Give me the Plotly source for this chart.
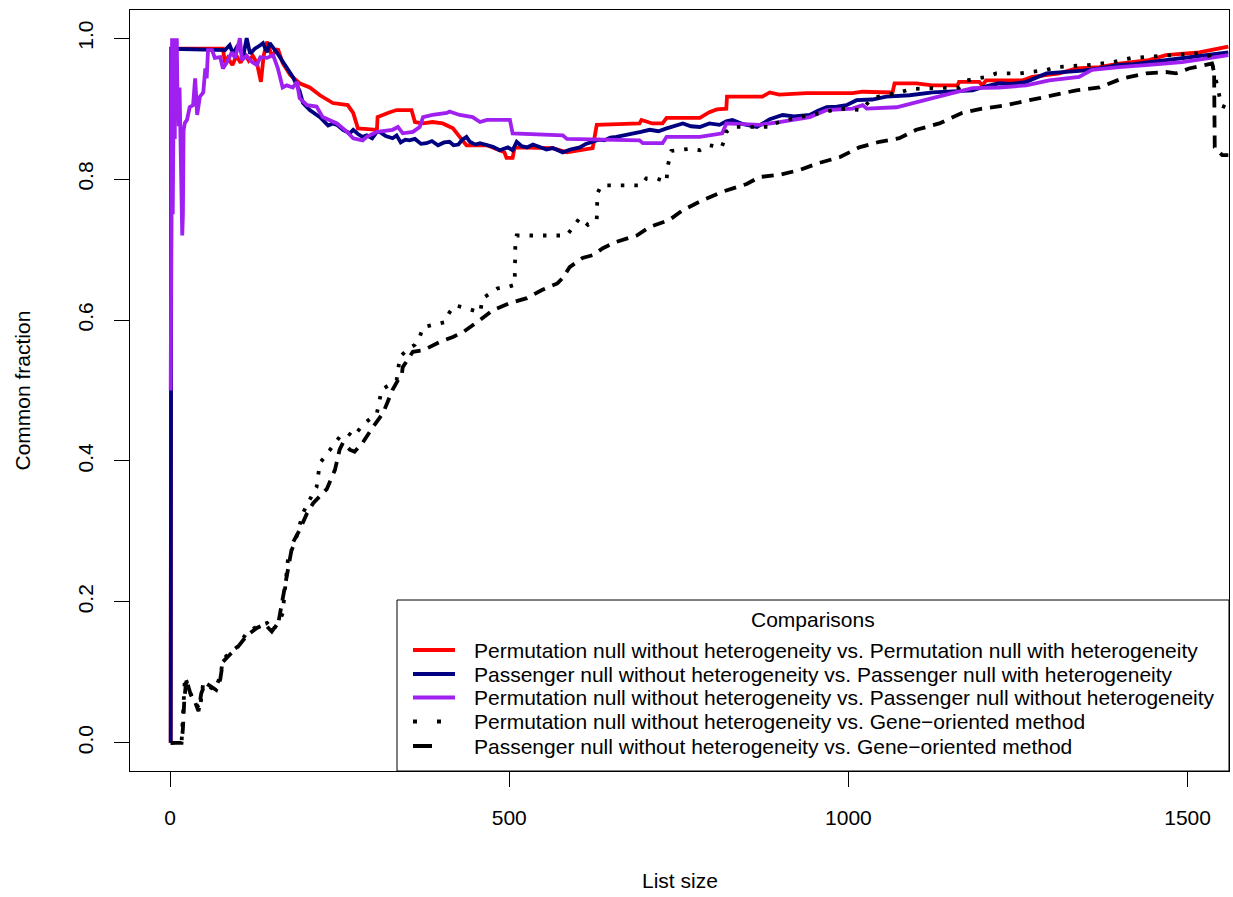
import plotly.graph_objects as go

# ---------------- data ----------------
red_x = [1, 2, 78, 81, 85, 92, 98, 104, 110, 116, 122, 128, 134, 138, 143, 150, 159, 166, 177, 191,
         206, 221, 240, 262, 270, 277, 305, 306, 324, 334, 356, 361, 373, 387, 402, 417, 427, 437,
         467, 476, 493, 496, 505, 508, 564, 585, 623, 629, 692, 695, 711, 726, 732, 781, 795, 806,
         820, 821, 873, 884, 898, 938, 1006, 1021, 1065, 1068, 1100, 1124, 1161, 1163, 1193, 1197,
         1203, 1256, 1271, 1311, 1336, 1370, 1399, 1443, 1468, 1517, 1546, 1560]
red_y = [0.0, 0.985, 0.985, 0.965, 0.972, 0.962, 0.975, 0.965, 0.978, 0.968, 0.975, 0.965, 0.938,
         0.975, 0.995, 0.975, 0.985, 0.965, 0.948, 0.936, 0.93, 0.919, 0.908, 0.905, 0.894, 0.872,
         0.870, 0.888, 0.895, 0.898, 0.898, 0.881, 0.879, 0.881, 0.879, 0.872, 0.860, 0.848, 0.848,
         0.845, 0.838, 0.830, 0.830, 0.845, 0.844, 0.838, 0.844, 0.877, 0.879, 0.884, 0.879, 0.879,
         0.887, 0.887, 0.895, 0.899, 0.900, 0.917, 0.917, 0.923, 0.920, 0.922, 0.922, 0.924, 0.923,
         0.936, 0.936, 0.933, 0.933, 0.938, 0.938, 0.933, 0.940, 0.940, 0.945, 0.950, 0.957, 0.959,
         0.964, 0.969, 0.976, 0.980, 0.986, 0.988]

navy_x = [1, 2, 81, 88, 93, 100, 108, 113, 118, 125, 133, 137, 143, 147, 158, 172, 181, 191, 196,
          206, 214, 221, 225, 233, 240, 246, 255, 265, 270, 277, 284, 290, 298, 305, 309, 318, 328,
          334, 340, 347, 353, 361, 370, 378, 386, 395, 404, 412, 418, 425, 431, 437, 442, 450, 457,
          467, 476, 486, 498, 505, 511, 518, 526, 535, 545, 555, 564, 572, 579, 590, 604, 613, 623,
          632, 640, 649, 658, 670, 682, 694, 707, 720, 732, 744, 756, 768, 781, 795, 810, 820, 829,
          845, 865, 884, 903, 920, 943, 955, 968, 983, 997, 1012, 1035, 1056, 1090, 1124, 1145,
          1163, 1183, 1200, 1222, 1240, 1262, 1292, 1321, 1345, 1370, 1399, 1420, 1443, 1470, 1492,
          1520, 1546, 1560]
navy_y = [0.0, 0.985, 0.983, 0.990, 0.978, 0.990, 0.975, 1.000, 0.978, 0.985, 0.990, 0.993, 0.980,
          0.993, 0.979, 0.959, 0.945, 0.925, 0.908, 0.898, 0.893, 0.888, 0.884, 0.876, 0.879, 0.877,
          0.870, 0.865, 0.870, 0.864, 0.860, 0.862, 0.858, 0.867, 0.867, 0.861, 0.858, 0.862, 0.852,
          0.856, 0.855, 0.857, 0.850, 0.851, 0.854, 0.848, 0.852, 0.853, 0.848, 0.849, 0.856, 0.860,
          0.853, 0.849, 0.851, 0.849, 0.846, 0.841, 0.845, 0.841, 0.853, 0.847, 0.845, 0.849, 0.846,
          0.842, 0.844, 0.840, 0.838, 0.842, 0.845, 0.850, 0.853, 0.856, 0.855, 0.859, 0.860, 0.862,
          0.865, 0.867, 0.870, 0.868, 0.872, 0.876, 0.879, 0.875, 0.874, 0.879, 0.877, 0.882, 0.884,
          0.878, 0.874, 0.885, 0.891, 0.889, 0.891, 0.897, 0.902, 0.903, 0.905, 0.912, 0.913, 0.917,
          0.919, 0.923, 0.924, 0.926, 0.926, 0.931, 0.936, 0.935, 0.938, 0.950, 0.952, 0.954, 0.957,
          0.962, 0.963, 0.966, 0.969, 0.972, 0.975, 0.979, 0.980]

purple_x = [1, 2, 3, 4, 5, 6, 7, 8, 9, 10, 11, 12, 13, 14, 15, 16, 17, 18, 19, 20, 22, 25, 29, 34,
            37, 40, 44, 49, 52, 54, 56, 62, 66, 74, 78, 84, 91, 96, 103, 106, 113, 121, 128, 133,
            143, 152, 159, 166, 172, 181, 187, 191, 202, 216, 225, 246, 261, 270, 284, 290, 305,
            328, 336, 343, 358, 368, 373, 387, 408, 412, 427, 446, 457, 467, 501, 505, 579, 585,
            692, 697, 726, 732, 781, 814, 820, 869, 898, 943, 968, 1006, 1021, 1027, 1071, 1094,
            1124, 1153, 1183, 1222, 1262, 1296, 1340, 1359, 1399, 1443, 1492, 1546, 1560]
purple_y = [0.5, 1.0, 1.0, 0.75, 1.0, 1.0, 0.857, 1.0, 0.89, 1.0, 0.91, 0.92, 0.875, 0.93, 0.88,
            0.80, 0.73, 0.72, 0.75, 0.87, 0.88, 0.884, 0.902, 0.905, 0.943, 0.891, 0.917, 0.923,
            0.957, 0.943, 0.983, 0.983, 0.972, 0.973, 0.957, 0.966, 0.980, 0.972, 1.000, 0.969,
            0.975, 0.966, 0.962, 0.973, 0.972, 0.976, 0.957, 0.930, 0.933, 0.930, 0.938, 0.915,
            0.905, 0.903, 0.888, 0.879, 0.867, 0.858, 0.855, 0.860, 0.867, 0.870, 0.874, 0.865,
            0.867, 0.874, 0.888, 0.891, 0.894, 0.896, 0.891, 0.888, 0.881, 0.884, 0.884, 0.865,
            0.862, 0.857, 0.855, 0.851, 0.851, 0.860, 0.860, 0.865, 0.879, 0.877, 0.881, 0.888,
            0.898, 0.900, 0.905, 0.900, 0.902, 0.908, 0.915, 0.922, 0.929, 0.930, 0.933, 0.940,
            0.945, 0.955, 0.959, 0.962, 0.966, 0.974, 0.976]

dot_x = [1, 17, 19, 22, 32, 44, 47, 49, 59, 66, 74, 78, 88, 99, 113, 128, 143, 152, 162, 166, 169,
         174, 184, 196, 203, 216, 218, 221, 236, 250, 262, 270, 284, 305, 312, 334, 339, 349, 361,
         368, 373, 390, 405, 412, 420, 432, 445, 457, 461, 471, 483, 498, 508, 509, 511, 585, 594,
         604, 616, 629, 630, 636, 695, 702, 717, 732, 733, 739, 766, 781, 795, 813, 817, 820, 829,
         854, 887, 891, 923, 960, 987, 1019, 1035, 1075, 1094, 1124, 1163, 1174, 1203, 1218, 1252,
         1292, 1306, 1355, 1389, 1418, 1468, 1517, 1532, 1536, 1546, 1549, 1560]
dot_y = [0.0, 0.0, 0.037, 0.094, 0.065, 0.047, 0.071, 0.085, 0.079, 0.075, 0.094, 0.118, 0.128,
         0.136, 0.156, 0.165, 0.170, 0.160, 0.174, 0.184, 0.213, 0.262, 0.284, 0.326, 0.340, 0.363,
         0.377, 0.397, 0.416, 0.434, 0.440, 0.434, 0.451, 0.468, 0.501, 0.515, 0.548, 0.557, 0.565,
         0.576, 0.590, 0.593, 0.597, 0.611, 0.621, 0.618, 0.614, 0.611, 0.631, 0.638, 0.645, 0.647,
         0.650, 0.706, 0.720, 0.720, 0.732, 0.745, 0.735, 0.742, 0.780, 0.791, 0.791, 0.801, 0.801,
         0.796, 0.816, 0.840, 0.843, 0.841, 0.848, 0.845, 0.855, 0.867, 0.874, 0.874, 0.874, 0.879,
         0.887, 0.894, 0.900, 0.898, 0.915, 0.923, 0.928, 0.929, 0.930, 0.940, 0.945, 0.950, 0.950,
         0.955, 0.959, 0.962, 0.966, 0.972, 0.976, 0.979, 0.975, 0.964, 0.923, 0.905, 0.900]

dash_x = [1, 17, 19, 21, 24, 30, 36, 42, 46, 52, 60, 68, 74, 78, 88, 99, 113, 128, 140, 150, 160,
          165, 172, 174, 181, 191, 202, 211, 225, 231, 243, 250, 255, 265, 272, 284, 299, 314, 320,
          328, 342, 343, 353, 358, 373, 398, 417, 432, 457, 476, 501, 526, 549, 571, 579, 589, 608,
          623, 638, 658, 688, 707, 736, 756, 785, 814, 850, 869, 898, 928, 957, 987, 1016, 1046,
          1075, 1100, 1134, 1168, 1197, 1233, 1267, 1300, 1336, 1370, 1404, 1439, 1468, 1483, 1502,
          1536, 1539, 1540, 1551, 1560]
dash_y = [0.0, 0.0, 0.02, 0.06, 0.09, 0.07, 0.06, 0.045, 0.07, 0.085, 0.08, 0.075, 0.09, 0.115,
          0.125, 0.135, 0.152, 0.163, 0.168, 0.158, 0.172, 0.199, 0.236, 0.252, 0.284, 0.302, 0.326,
          0.340, 0.355, 0.360, 0.387, 0.416, 0.426, 0.416, 0.413, 0.426, 0.448, 0.468, 0.482, 0.501,
          0.525, 0.533, 0.548, 0.555, 0.557, 0.569, 0.576, 0.583, 0.600, 0.614, 0.624, 0.631, 0.643,
          0.652, 0.660, 0.675, 0.688, 0.692, 0.702, 0.711, 0.720, 0.732, 0.742, 0.756, 0.770, 0.782,
          0.793, 0.803, 0.806, 0.813, 0.823, 0.831, 0.845, 0.853, 0.858, 0.870, 0.879, 0.894, 0.900,
          0.905, 0.912, 0.919, 0.926, 0.930, 0.943, 0.950, 0.952, 0.950, 0.957, 0.964, 0.955, 0.845,
          0.834, 0.834]

series_names = [
    "Permutation null without heterogeneity vs. Permutation null with heterogeneity",
    "Passenger null without heterogeneity vs. Passenger null with heterogeneity",
    "Permutation null without heterogeneity vs. Passenger null without heterogeneity",
    "Permutation null without heterogeneity vs. Gene\u2212oriented method",
    "Passenger null without heterogeneity vs. Gene\u2212oriented method",
]
legend_title = "Comparisons"
x_ticks = [0, 500, 1000, 1500]
y_ticks = [0.0, 0.2, 0.4, 0.6, 0.8, 1.0]
y_tick_text = ["0.0", "0.2", "0.4", "0.6", "0.8", "1.0"]

# ---------------- styling ----------------
FONT = "Liberation Sans, Arial, Helvetica, sans-serif"
colors = ["#FF0000", "#000080", "#A020F0", "#000000", "#000000"]
plot_dash = ["solid", "solid", "solid", "3.5px,10px", "12px,8px"]
legend_dash = ["solid", "solid", "solid", "4px,20px", "19px,40px"]
LW = 3.8

fig = go.Figure()
all_x = [red_x, navy_x, purple_x, dot_x, dash_x]
all_y = [red_y, navy_y, purple_y, dot_y, dash_y]
for xs, ys, col, dsh, name in zip(all_x, all_y, colors, plot_dash, series_names):
    fig.add_trace(go.Scatter(x=xs, y=ys, mode="lines", name=name, showlegend=False,
                             line=dict(color=col, width=LW, dash=dsh)))

# ---------------- legend box drawn like R's legend() ----------------
PL, PR, PT, PB = 130, 1229, 10, 771      # plot-area pixel edges
def px_x(p):
    return (p - PL) / (PR - PL)
def px_y(p):
    return (PB - p) / (PB - PT)

box_left, box_top = 397, 600
row_y = [650, 674, 697.5, 721.5, 746]
shapes = [dict(type="rect", xref="paper", yref="paper", layer="above",
               x0=px_x(box_left), x1=1, y0=0, y1=px_y(box_top),
               fillcolor="white", line=dict(color="black", width=1))]
annotations = [dict(text=legend_title, xref="paper", yref="paper",
                    x=(px_x(box_left) + 1) / 2, y=px_y(619), showarrow=False,
                    font=dict(size=21), xanchor="center", yanchor="middle")]
for ry, col, dsh, name in zip(row_y, colors, legend_dash, series_names):
    shapes.append(dict(type="line", xref="paper", yref="paper", layer="above",
                       x0=px_x(413), x1=px_x(455), y0=px_y(ry), y1=px_y(ry),
                       line=dict(color=col, width=4, dash=dsh)))
    annotations.append(dict(text=name, xref="paper", yref="paper", x=px_x(472), y=px_y(ry),
                            showarrow=False, font=dict(size=21),
                            xanchor="left", yanchor="middle"))

annotations += [
    dict(text="List size", xref="paper", yref="paper", x=0.5, y=0,
         yshift=-109, showarrow=False, font=dict(size=21), yanchor="middle"),
    dict(text="Common fraction", xref="paper", yref="paper", x=0, y=0.5,
         xshift=-108, textangle=-90, showarrow=False, font=dict(size=21),
         xanchor="center", yanchor="middle"),
]

fig.update_layout(
    width=1233, height=897,
    margin=dict(l=PL, r=1233 - PR, t=PT, b=897 - PB),
    paper_bgcolor="white", plot_bgcolor="white",
    font=dict(family=FONT, size=21, color="black"),
    showlegend=False,
    xaxis=dict(range=[-59, 1561], tickvals=x_ticks, ticks="outside", ticklen=15,
               tickcolor="black", showgrid=False, zeroline=False,
               showline=True, mirror=True, linecolor="black", linewidth=1,
               ticklabelstandoff=13, tickfont=dict(size=21)),
    yaxis=dict(range=[-0.04, 1.04], tickvals=y_ticks, ticktext=y_tick_text,
               ticks="outside", ticklen=15, tickangle=-90,
               tickcolor="black", showgrid=False, zeroline=False,
               showline=True, mirror=True, linecolor="black", linewidth=1,
               ticklabelstandoff=13, tickfont=dict(size=21)),
    shapes=shapes,
    annotations=annotations,
)
fig.write_html("out.html", config={"displayModeBar": False},
               post_script="document.body.style.margin='0px';")
